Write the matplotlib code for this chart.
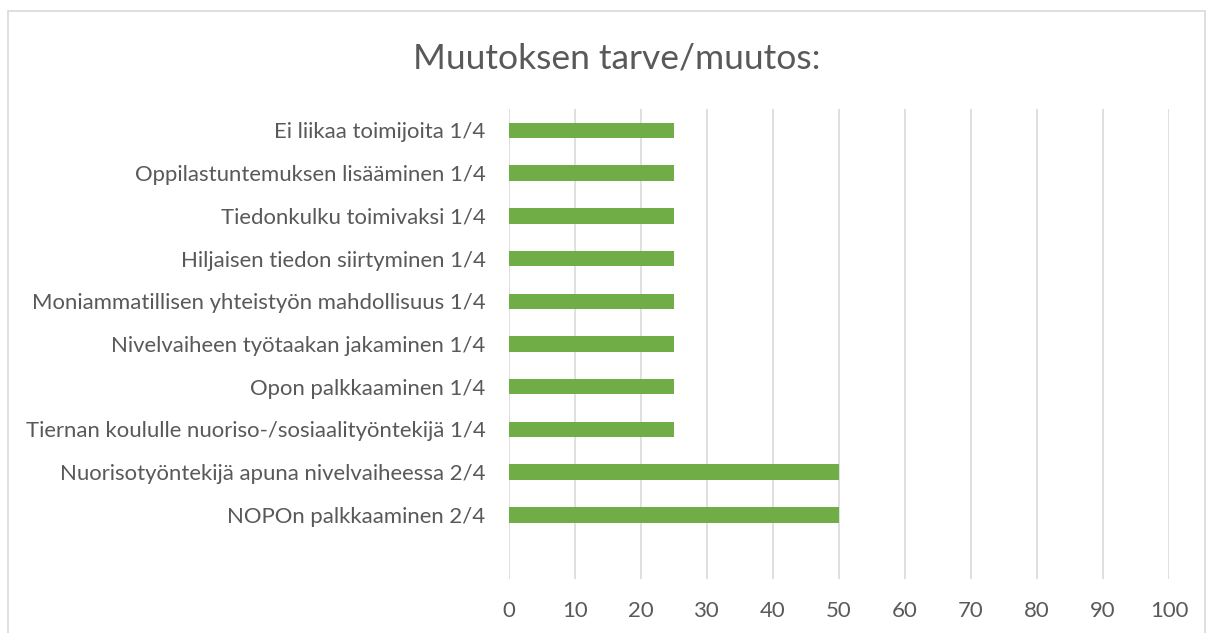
import matplotlib
matplotlib.use("Agg")
import matplotlib.pyplot as plt
from matplotlib.patches import Rectangle

categories = [
    "Ei liikaa toimijoita 1/4",
    "Oppilastuntemuksen lisääminen 1/4",
    "Tiedonkulku toimivaksi 1/4",
    "Hiljaisen tiedon siirtyminen 1/4",
    "Moniammatillisen yhteistyön mahdollisuus 1/4",
    "Nivelvaiheen työtaakan jakaminen 1/4",
    "Opon palkkaaminen 1/4",
    "Tiernan koululle nuoriso-/sosiaalityöntekijä 1/4",
    "Nuorisotyöntekijä apuna nivelvaiheessa 2/4",
    "NOPOn palkkaaminen 2/4",
]
values = [25, 25, 25, 25, 25, 25, 25, 25, 50, 50]
xticks = list(range(0, 101, 10))

plt.rcParams["font.family"] = ["Lato", "DejaVu Sans"]
text_color = "#595959"

fig = plt.figure(figsize=(12.07, 6.33), dpi=100)
fig.patches.append(Rectangle((8 / 1207, -0.05), 1197 / 1207, 1.05 - 11 / 633,
                             transform=fig.transFigure, fill=False,
                             edgecolor="#D9D9D9", linewidth=1.2))

ax = fig.add_axes([509 / 1207, 1 - 579 / 633, 660 / 1207, 470 / 633])
pos = list(range(len(categories)))
ax.barh(pos, values, height=0.36, color="#70AD47", zorder=3)

ax.set_xlim(0, 100)
ax.set_ylim(10.5, -0.5)
ax.set_xticks(xticks)
ax.set_yticks(pos)
ax.set_yticklabels(categories)
ax.grid(axis="x", color="#D9D9D9", linewidth=1.2, zorder=0)
for s in ax.spines.values():
    s.set_visible(False)
ax.tick_params(axis="both", length=0, colors=text_color, labelsize=15.9)
ax.tick_params(axis="y", pad=17)
ax.tick_params(axis="x", pad=16)

fig.text(0.511, 1 - 58 / 633, "Muutoksen tarve/muutos:", ha="center", va="center",
         fontsize=25.5, color=text_color)

fig.savefig("out.png", dpi=100)
